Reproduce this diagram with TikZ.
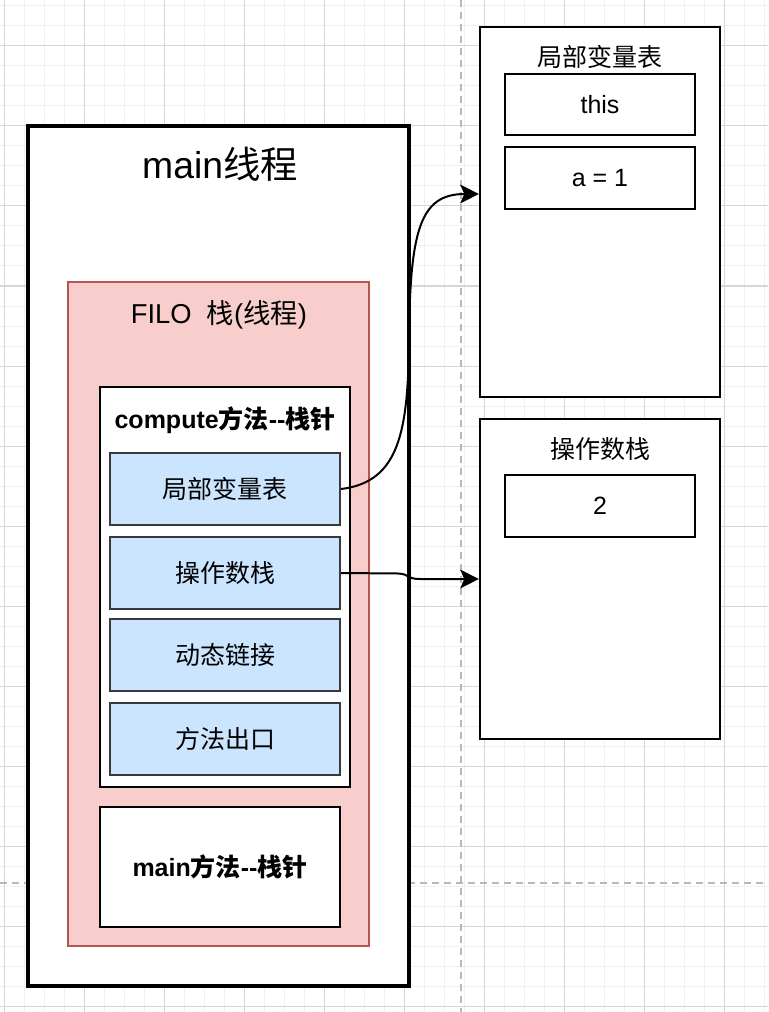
\documentclass[tikz,border=0pt]{standalone}
\usepackage{fontspec}
\setmainfont{Liberation Sans}
\newfontfamily\cjk{Noto Sans CJK SC}
\newcommand\zh[1]{{\cjk #1}}
\usetikzlibrary{arrows.meta}
\definecolor{pinkfill}{HTML}{F8CECC}
\definecolor{pinkline}{HTML}{B85450}
\definecolor{bluefill}{HTML}{CCE5FF}
\definecolor{blueline}{HTML}{36393D}
\definecolor{gridminor}{HTML}{F0F0F0}
\definecolor{gridmajor}{HTML}{D6D6D6}
\definecolor{dashgrey}{HTML}{B8B8B8}
\tikzset{
  minorgrid/.style={draw=gridminor, line width=0.75pt},
  majorgrid/.style={draw=gridmajor, line width=0.75pt},
  guide/.style={draw=dashgrey, line width=1.2pt, dash pattern=on 5pt off 4pt},
  txt/.style={font=\fontsize{18.75}{22}\selectfont, inner sep=0pt},
  bigtxt/.style={font=\fontsize{28}{32}\selectfont, inner sep=0pt},
  boldtxt/.style={font=\fontsize{18.75}{22}\selectfont\bfseries, inner sep=0pt},
  box/.style={draw=black, fill=white, line width=1.6pt, inner sep=0pt, rectangle},
  mainbox/.style={box, line width=2.6pt},
  stackbox/.style={draw=pinkline, fill=pinkfill, line width=2.2pt, inner sep=0pt, rectangle},
  bluebox/.style={draw=blueline, fill=bluefill, line width=1.6pt, inner sep=0pt, rectangle,
    minimum width=172.5pt, minimum height=54pt, font=\fontsize{18.75}{22}\selectfont},
  conn/.style={draw=black, line width=1.5pt, -{Stealth[length=14pt, width=14pt, inset=3pt]}},
}
\begin{document}
\begin{tikzpicture}[x=0.75pt, y=-0.75pt]
\useasboundingbox (0,0) rectangle (768,1012);
\clip (0,0) rectangle (768,1012);
\fill[white] (0,0) rectangle (768,1012);
% grid
\foreach \gx in {4,24,...,764} \draw[minorgrid] (\gx,0) -- (\gx,1012);
\foreach \gy in {6,26,...,1006} \draw[minorgrid] (0,\gy) -- (768,\gy);
\foreach \gx in {4,84,...,764} \draw[majorgrid] (\gx,0) -- (\gx,1012);
\foreach \gy in {46,126,...,1006} \draw[majorgrid] (0,\gy) -- (768,\gy);
% guides
\draw[guide] (461,0) -- (461,1012);
\draw[guide] (0,883) -- (768,883);

% main thread
\node[mainbox, minimum width=285.75pt, minimum height=645pt] (main) at (218.5,556) {};
\node[bigtxt] (maint) at (220,164) {main\zh{线程}};
\node[stackbox, minimum width=225.75pt, minimum height=498pt] (stack) at (218.5,614) {};
\node[txt, font=\fontsize{20.5}{24}\selectfont] (stackt) at (219,315) {FILO\ \ \zh{栈}(\zh{线程})};
\node[box, minimum width=187.5pt, minimum height=300pt] (comp) at (225,587) {};
\node[boldtxt] (compt) at (225,420) {compute\zh{方法}-\kern0pt-\zh{栈针}};
\node[bluebox] (b1) at (225,489) {\zh{局部变量表}};
\node[bluebox] (b2) at (225,573) {\zh{操作数栈}};
\node[bluebox] (b3) at (225,655) {\zh{动态链接}};
\node[bluebox] (b4) at (225,739) {\zh{方法出口}};
\node[box, minimum width=180pt, minimum height=90pt, font=\fontsize{18.75}{22}\selectfont\bfseries] (mm) at (220,867) {main\zh{方法}-\kern0pt-\zh{栈针}};

% right top
\node[box, minimum width=180pt, minimum height=277.5pt] (lv) at (600,212) {};
\node[txt] (lvt) at (600,57) {\zh{局部变量表}};
\node[box, minimum width=142.5pt, minimum height=45.75pt, font=\fontsize{18.75}{22}\selectfont] (this) at (600,104.5) {this};
\node[box, minimum width=142.5pt, minimum height=46.5pt, font=\fontsize{18.75}{22}\selectfont] (a1) at (600,178) {a = 1};

% right bottom
\node[box, minimum width=180pt, minimum height=240pt] (os) at (600,579) {};
\node[txt] (ost) at (600,449) {\zh{操作数栈}};
\node[box, minimum width=142.5pt, minimum height=46.5pt, font=\fontsize{18.75}{22}\selectfont] (two) at (600,506) {2};

% connectors
\coordinate (m1) at (409,340);
\coordinate (lvin) at (lv.west |- 0,194);
\coordinate (osin) at (os.west |- 0,579);
\draw[conn] (b1.east) .. controls (400,482) and (408,430) .. (m1)
  .. controls (410,230) and (420,194) .. (lvin);
\draw[conn] (b2.east) -- (398,573.5) .. controls (410,574) and (406,579) .. (420,579) -- (osin);
\end{tikzpicture}
\end{document}
